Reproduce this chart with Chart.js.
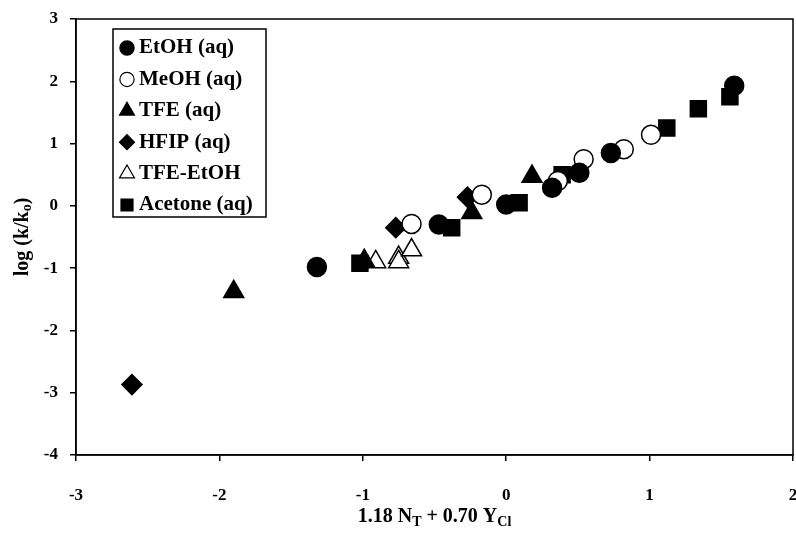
<!DOCTYPE html>
<html>
<head>
<meta charset="utf-8">
<script src="https://cdn.jsdelivr.net/npm/chart.js@4.4.1/dist/chart.umd.min.js"></script>
<style>
  body { margin: 0; background: #fff; }
</style>
</head>
<body>
<canvas id="scatter-chart" width="796" height="537"></canvas>
<script>
// values: x = 1.18 NT + 0.70 YCl, y = log(k/k0)
var seriesNames = ["EtOH (aq)", "MeOH (aq)", "TFE (aq)", "HFIP (aq)", "TFE-EtOH", "Acetone (aq)"];

var etohX = [-1.32, -0.47, 0.0, 0.32, 0.51, 0.73, 1.59];
var etohY = [-0.98, -0.30, 0.02, 0.29, 0.53, 0.85, 1.93];

var meohX = [-0.66, -0.17, 0.36, 0.54, 0.82, 1.01];
var meohY = [-0.29, 0.18, 0.40, 0.75, 0.91, 1.14];

var tfeX = [-1.90, -0.99, -0.24, 0.18];
var tfeY = [-1.38, -0.88, -0.11, 0.47];

var hfipX = [-2.61, -0.77, -0.27];
var hfipY = [-2.87, -0.35, 0.14];

var tfeEtohX = [-0.91, -0.75, -0.75, -0.66];
var tfeEtohY = [-0.90, -0.83, -0.90, -0.71];

var acetoneX = [-1.02, -0.38, 0.09, 0.39, 1.12, 1.34, 1.56];
var acetoneY = [-0.92, -0.35, 0.05, 0.50, 1.25, 1.56, 1.75];

var xTicks = [-3, -2, -1, 0, 1, 2];
var yTicks = [-4, -3, -2, -1, 0, 1, 2, 3];

function pts(xs, ys) {
  return xs.map(function (x, i) { return { x: x, y: ys[i] }; });
}

var serif = "'Liberation Serif', 'Times New Roman', serif";

function makeSet(i, xs, ys, style, fill, radius) {
  return {
    label: seriesNames[i],
    data: pts(xs, ys),
    pointStyle: style,
    backgroundColor: fill,
    borderColor: "#000",
    borderWidth: 1.5,
    pointRadius: radius,
    pointHoverRadius: radius,
    showLine: false,
  };
}

// draws a string made of normal and subscript pieces, centred on x
function drawPieces(ctx, parts, cx, base, big, small, drop) {
  var total = 0;
  parts.forEach(function (p) {
    ctx.font = p[1] ? small : big;
    total += ctx.measureText(p[0]).width;
  });
  var x = cx - total / 2;
  parts.forEach(function (p) {
    ctx.font = p[1] ? small : big;
    ctx.fillText(p[0], x, p[1] ? base + drop : base);
    x += ctx.measureText(p[0]).width;
  });
}

var frameAndText = {
  id: "frameAndText",
  afterDraw: function (chart) {
    var ctx = chart.ctx;
    var a = chart.chartArea;
    ctx.save();
    // box around plot
    ctx.strokeStyle = "#000";
    ctx.lineWidth = 1.5;
    ctx.strokeRect(a.left, a.top, a.right - a.left, a.bottom - a.top);

    // legend
    var lx = 113, ly = 29, lw = 153, lh = 188;
    ctx.fillStyle = "#fff";
    ctx.fillRect(lx, ly, lw, lh);
    ctx.lineWidth = 1.5;
    ctx.strokeRect(lx, ly, lw, lh);
    chart.data.datasets.forEach(function (ds, i) {
      var cy = 47 + i * 31.4;
      ctx.fillStyle = ds.backgroundColor;
      ctx.strokeStyle = "#000";
      ctx.lineWidth = 1.2;
      Chart.helpers.drawPoint(ctx, {
        pointStyle: ds.pointStyle,
        radius: ds.pointRadius * 0.75,
        borderWidth: 1.2,
        rotation: 0,
      }, 127, cy + 1);
      ctx.fillStyle = "#000";
      ctx.font = "bold 21px " + serif;
      ctx.textAlign = "left";
      ctx.textBaseline = "middle";
      ctx.fillText(ds.label, 139, cy + 1);
    });

    ctx.textAlign = "left";
    ctx.textBaseline = "alphabetic";
    var big = "bold 20px " + serif, small = "bold 14px " + serif;
    // x title with subscripts
    drawPieces(ctx, [["1.18 N", 0], ["T", 1], [" + 0.70 Y", 0], ["Cl", 1]],
      (a.left + a.right) / 2, 522, big, small, 4);

    // y title
    ctx.translate(28, (a.top + a.bottom) / 2);
    ctx.rotate(-Math.PI / 2);
    drawPieces(ctx, [["log (k/k", 0], ["o", 1], [")", 0]], 0, 0, big, small, 3);
    ctx.restore();
  },
};

var config = {
  type: "scatter",
  data: {
    datasets: [
      makeSet(0, etohX, etohY, "circle", "#000", 9.5),
      makeSet(1, meohX, meohY, "circle", "#fff", 9.5),
      makeSet(2, tfeX, tfeY, "triangle", "#000", 11.5),
      makeSet(3, hfipX, hfipY, "rectRot", "#000", 10),
      makeSet(4, tfeEtohX, tfeEtohY, "triangle", "#fff", 11.5),
      makeSet(5, acetoneX, acetoneY, "rect", "#000", 11.3),
    ],
  },
  options: {
    responsive: false,
    animation: false,
    layout: { autoPadding: false, padding: { top: 19, right: 3, left: 0, bottom: 0 } },
    plugins: {
      legend: { display: false },
      tooltip: { enabled: false },
    },
    scales: {
      x: {
        type: "linear",
        min: -3,
        max: 2,
        afterBuildTicks: function (s) { s.ticks = xTicks.map(function (v) { return { value: v }; }); },
        afterFit: function (s) { s.height = 82; s.paddingLeft = 0; s.paddingRight = 0; },
        ticks: { color: "#000", font: { family: serif, size: 17, weight: "bold" }, padding: 24 },
        grid: { drawOnChartArea: false, color: "#000", tickLength: 6, lineWidth: 1.5 },
        border: { color: "#000", width: 1.5 },
      },
      y: {
        type: "linear",
        min: -4,
        max: 3,
        afterBuildTicks: function (s) { s.ticks = yTicks.map(function (v) { return { value: v }; }); },
        afterFit: function (s) { s.width = 76; s.paddingTop = 0; s.paddingBottom = 0; },
        ticks: { color: "#000", font: { family: serif, size: 17, weight: "bold" }, padding: 12 },
        grid: { drawOnChartArea: false, color: "#000", tickLength: 6, lineWidth: 1.5 },
        border: { color: "#000", width: 1.5 },
      },
    },
  },
  plugins: [frameAndText],
};

var ctx = document.getElementById("scatter-chart").getContext("2d");
window.myScatter = new Chart(ctx, config);
</script>
</body>
</html>
